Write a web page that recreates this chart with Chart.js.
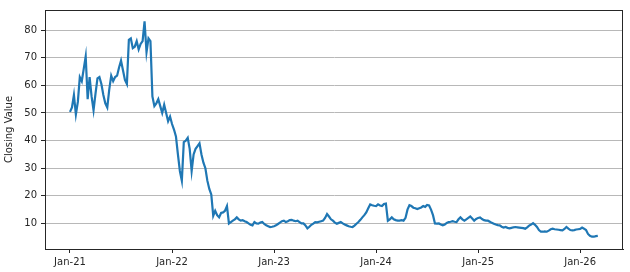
<!DOCTYPE html>
<html>
<head>
<meta charset="utf-8">
<title>Closing Value</title>
<script src="https://cdn.jsdelivr.net/npm/chart.js@4.4.1/dist/chart.umd.min.js"></script>
<style>
  html, body { margin: 0; padding: 0; background: #fff; }
  #chart { display: block; }
</style>
</head>
<body>
<canvas id="chart" width="630" height="272"></canvas>
<script>
// Weekly closing values, one array per calendar year
const close2021 = [50.4, 52, 56.5, 49.5, 54, 63, 61.5, 66, 70.5, 55, 63, 56, 51, 57, 62.5, 63, 60.5, 56.5, 53.5, 52,
    58.5, 63.5, 61.5, 63, 63.5, 66.5, 69, 65.5, 62, 60.5, 76.5, 77, 73.5, 74, 76, 73, 75, 76, 83.2, 72,
    77, 76, 56, 52.5, 53.5, 55, 52.5, 50, 53, 50, 47, 48.7];
const close2022 = [46, 44, 41.5, 35, 29, 25.5, 39.5, 40, 41, 37, 29, 35, 37, 38, 39, 35, 32, 30, 25.5, 22.5,
    20.5, 12.8, 14.6, 13, 12.2, 13.8, 14, 14.6, 16.3, 10, 10.5, 11, 11.5, 12.2, 11.5, 11, 11.2, 10.8, 10.5, 10,
    9.5, 9.3, 10.5, 10, 9.9, 10.3, 10.5, 9.8, 9.3, 9, 8.7, 8.8];
const close2023 = [9, 9.3, 9.8, 10.3, 10.8, 11, 10.5, 10.8, 11.2, 11.3, 11, 10.8, 11, 10.5, 10, 10, 9.3, 8.2, 8.8, 9.5,
    9.9, 10.5, 10.4, 10.6, 10.8, 11, 12, 13.4, 12.5, 11.5, 11, 10.3, 9.9, 10.2, 10.5, 10, 9.6, 9.3, 9, 8.8,
    8.7, 9.2, 9.9, 10.5, 11.3, 12.2, 13, 14, 15.5, 16.9, 16.6, 16.4];
const close2024 = [16.3, 16.9, 16.5, 16.3, 17, 17.2, 11, 11.5, 12.2, 11.5, 11.2, 11, 11, 11.2, 11, 12, 15, 16.6, 16.3, 15.7,
    15.5, 15.2, 15.5, 15.8, 16.3, 16, 16.7, 16.5, 15, 13, 10, 9.9, 10, 9.6, 9.3, 9.6, 10.2, 10.5, 10.6, 10.8,
    10.6, 10.5, 11.5, 12.2, 11.5, 11, 11.5, 12, 12.5, 11.8, 11, 11.6];
const close2025 = [12, 12.2, 11.6, 11.2, 11, 11, 10.6, 10.2, 9.9, 9.6, 9.4, 9.3, 8.8, 8.5, 8.7, 8.4, 8.2, 8.4, 8.6, 8.7,
    8.6, 8.5, 8.4, 8.3, 8.1, 8.6, 9.2, 9.6, 10.1, 9.5, 8.7, 7.6, 7, 7, 7.1, 7, 7.4, 7.9, 8.1, 7.9,
    7.8, 7.7, 7.6, 7.5, 8, 8.7, 8.1, 7.6, 7.5, 7.6, 7.8, 7.9];
const close2026 = [8, 8.5, 8.1, 7.6, 6.2, 5.5, 5.2, 5.2, 5.4, 5.5];

const closeYears = [2021, 2022, 2023, 2024, 2025, 2026];
const closeByYear = [close2021, close2022, close2023, close2024, close2025, close2026];

// Axis ticks
const xTickYears = [2021, 2022, 2023, 2024, 2025, 2026];
const xTickLabels = ["Jan-21", "Jan-22", "Jan-23", "Jan-24", "Jan-25", "Jan-26"];
const yTicks = [10, 20, 30, 40, 50, 60, 70, 80];

// Turn the yearly arrays into {x, y} points (x = year + week / 52)
function buildPoints() {
    const points = [];
    closeByYear.forEach((values, i) => {
        values.forEach((v, week) => {
            points.push({ x: closeYears[i] + week / 52, y: v });
        });
    });
    return points;
}

// Frame around the plot area (matplotlib style spines)
const frameBox = {
    id: "frameBox",
    afterDraw(chart) {
        const a = chart.chartArea;
        const ctx = chart.ctx;
        ctx.save();
        ctx.strokeStyle = "#262626";
        ctx.lineWidth = 1;
        ctx.strokeRect(Math.round(a.left) + 0.5, Math.round(a.top) + 0.5,
            Math.round(a.right - a.left) - 1, Math.round(a.bottom - a.top));
        ctx.restore();
    }
};

Chart.defaults.font.family = "'DejaVu Sans', sans-serif";
Chart.defaults.font.size = 10;
Chart.defaults.color = "#262626";

const ctx = document.getElementById("chart").getContext("2d");

new Chart(ctx, {
    type: "line",
    data: {
        datasets: [{
            label: "Closing Value",
            data: buildPoints(),
            borderColor: "#1f77b4",
            borderWidth: 2.2,
            pointRadius: 0,
            tension: 0,
            fill: false
        }]
    },
    options: {
        responsive: false,
        animation: false,
        devicePixelRatio: 1,
        layout: { padding: { top: 3, right: 7, left: 0, bottom: 0 } },
        plugins: {
            legend: { display: false },
            tooltip: { enabled: false }
        },
        scales: {
            x: {
                type: "linear",
                min: 2020.755,
                max: 2026.42,
                afterBuildTicks: scale => {
                    scale.ticks = xTickYears.map(v => ({ value: v }));
                },
                afterFit: scale => { scale.height = 23; },
                ticks: {
                    padding: 3,
                    maxRotation: 0,
                    callback: value => xTickLabels[xTickYears.indexOf(value)]
                },
                grid: {
                    drawOnChartArea: false,
                    drawTicks: true,
                    tickLength: 4,
                    tickColor: "#262626"
                },
                border: { color: "#262626", width: 1 }
            },
            y: {
                min: 0.74,
                max: 87.3,
                afterBuildTicks: scale => {
                    scale.ticks = yTicks.map(v => ({ value: v }));
                },
                afterFit: scale => { scale.width = 45; },
                ticks: { padding: 4 },
                grid: {
                    color: "#b8b8b8",
                    lineWidth: 1,
                    drawTicks: true,
                    tickLength: 4,
                    tickColor: "#262626"
                },
                border: { color: "#262626", width: 1 },
                title: {
                    display: true,
                    text: "Closing Value",
                    padding: { top: 3, bottom: 0 },
                    font: { size: 10 }
                }
            }
        }
    },
    plugins: [frameBox]
});
</script>
</body>
</html>
